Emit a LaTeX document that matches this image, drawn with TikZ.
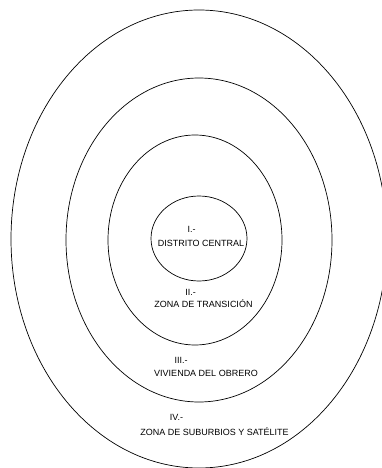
\documentclass[tikz,border=0pt]{standalone}
\usepackage{fontspec}
\setmainfont{Liberation Sans}

\begin{document}
\begin{tikzpicture}[x=1pt, y=-1pt, line width=0.7pt,
  zone/.style={font=\fontsize{9}{10}\selectfont, inner sep=0pt}]
  % Frame
  \useasboundingbox (0,0) rectangle (382,468);
  \clip (0,0) rectangle (382,468);
  % Rings, from outside to inside
  \draw (199,239) ellipse [x radius=188pt, y radius=229pt];
  \draw (199,240) ellipse [x radius=133pt, y radius=162pt];
  \draw (195,240) ellipse [x radius=87pt, y radius=105pt];
  \draw (199,238.5) ellipse [x radius=48pt, y radius=42.5pt];
  % I: central district
  \node[zone] (num1) at (191.5,229) {I.-};
  \node[zone] (name1) at (201,243) {DISTRITO CENTRAL};
  % II: transition zone
  \node[zone] (num2) at (190.5,292) {II.-};
  \node[zone] (name2) at (203.5,304) {ZONA DE TRANSICIÓN};
  % III: workers' housing
  \node[zone] (num3) at (181,360) {III.-};
  \node[zone] (name3) at (206,373) {VIVIENDA DEL OBRERO};
  % IV: suburbs
  \node[zone] (num4) at (176.5,417) {IV.-};
  \node[zone] (name4) at (214.5,432) {ZONA DE SUBURBIOS Y SATÉLITE};
\end{tikzpicture}
\end{document}
